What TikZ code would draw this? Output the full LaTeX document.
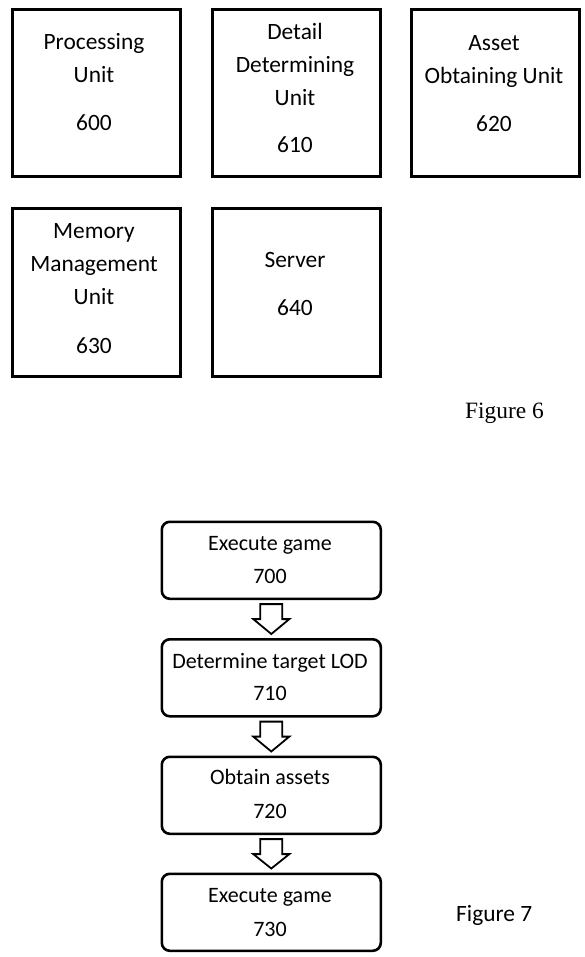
\documentclass[tikz,border=0pt]{standalone}
\usepackage{fontspec}
\setmainfont{Carlito}
\newfontfamily\timesfont{Liberation Serif}
\usetikzlibrary{calc}
\tikzset{
  unitbox/.style={draw=black, line width=3pt, minimum width=168pt, minimum height=167pt, inner sep=0pt, anchor=north west},
  flowbox/.style={draw=black, line width=2.6pt, rounded corners=8pt, minimum width=219pt, minimum height=77pt, inner sep=0pt, anchor=north west},
  txt/.style={anchor=base, inner sep=0pt, font=\fontsize{23.4pt}{28pt}\selectfont},
  ftxt/.style={anchor=base, inner sep=0pt, font=\fontsize{22pt}{28pt}\selectfont},
  figtxt/.style={anchor=base west, inner sep=0pt, font=\fontsize{23.4pt}{28pt}\selectfont},
  barrow/.style={draw=black, line width=1.8pt, fill=white, line join=miter}
}
\newcommand\blockarrow[2]{%
  \draw[barrow] ($(#1.south)+(-11,4)$) -- ($(#1.south)+(-11,19)$) -- ($(#1.south)+(-18,19)$)
    -- ($(#2.north)+(0,-4)$) -- ($(#1.south)+(18,19)$) -- ($(#1.south)+(11,19)$)
    -- ($(#1.south)+(11,4)$) -- cycle;}
\begin{document}
\begin{tikzpicture}[x=1pt,y=-1pt]
\useasboundingbox[fill=white] (0,0) rectangle (584,957);
% Figure 6
\node[unitbox] (b600) at (10.5,8.5) {};
\node[unitbox] (b610) at (210.5,8.5) {};
\node[unitbox] (b620) at (409.5,8.5) {};
\node[unitbox] (b630) at (10.5,207.5) {};
\node[unitbox] (b640) at (210.5,207.5) {};
\node[txt] (t600a) at (94,50) {Processing};
\node[txt] (t600b) at (94,83) {Unit};
\node[txt] (t600c) at (94,131) {600};
\node[txt] (t610a) at (295,40) {Detail};
\node[txt] (t610b) at (295,73) {Determining};
\node[txt] (t610c) at (295,106) {Unit};
\node[txt] (t610d) at (295,153) {610};
\node[txt] (t620a) at (494,51) {Asset};
\node[txt] (t620b) at (494,84) {Obtaining Unit};
\node[txt] (t620c) at (494,132) {620};
\node[txt] (t630a) at (94,239) {Memory};
\node[txt] (t630b) at (94,272) {Management};
\node[txt] (t630c) at (94,305) {Unit};
\node[txt] (t630d) at (94,353) {630};
\node[txt] (t640a) at (295,268) {Server};
\node[txt] (t640b) at (295,315) {640};
\node[figtxt, font=\timesfont\fontsize{23.4pt}{28pt}\selectfont] (fig6) at (465,418) {Figure 6};
% Figure 7
\node[flowbox] (s700) at (160.5,520.5) {};
\node[flowbox] (s710) at (160.5,638) {};
\node[flowbox] (s720) at (160.5,755.5) {};
\node[flowbox] (s730) at (160.5,872.5) {};
\node[ftxt] (t700a) at (270,550) {Execute game};
\node[ftxt] (t700b) at (270,583) {700};
\node[ftxt] (t710a) at (270,668) {Determine target LOD};
\node[ftxt] (t710b) at (270,700) {710};
\node[ftxt] (t720a) at (270,784) {Obtain assets};
\node[ftxt] (t720b) at (270,818) {720};
\node[ftxt] (t730a) at (270,902) {Execute game};
\node[ftxt] (t730b) at (270,936) {730};
\blockarrow{s700}{s710}
\blockarrow{s710}{s720}
\blockarrow{s720}{s730}
\node[figtxt] (fig7) at (456,921) {Figure 7};
\end{tikzpicture}
\end{document}
